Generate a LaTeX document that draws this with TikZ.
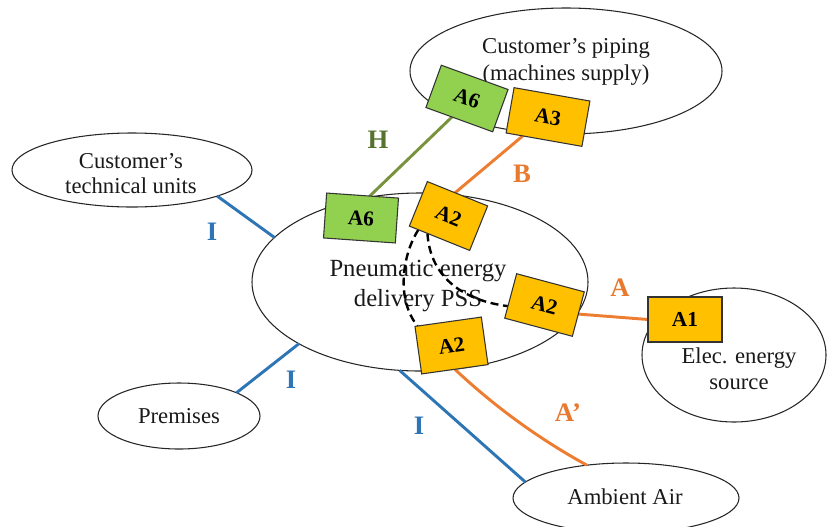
\documentclass[tikz,border=0pt]{standalone}
\usepackage{fontspec}
\setmainfont{Liberation Serif}
\usetikzlibrary{shapes.geometric,calc}
\pgfdeclarelayer{ell}
\pgfdeclarelayer{conn}
\pgfsetlayers{ell,conn,main}
\definecolor{boxyellow}{HTML}{FFC000}
\definecolor{boxgreen}{HTML}{92D050}
\definecolor{lineorange}{HTML}{ED7D31}
\definecolor{lineblue}{HTML}{2E75B6}
\definecolor{lineolive}{HTML}{77933C}
\definecolor{txtolive}{HTML}{56722F}
\definecolor{txtorange}{HTML}{E8792F}
\definecolor{txtblue}{HTML}{2E75B6}
\tikzset{
  region/.style={draw=black!85, line width=0.8pt, ellipse, inner sep=0pt, outer sep=0pt},
  regiontext/.style={align=center, inner sep=0pt, text=black!90},
  ybox/.style={draw=black!80, line width=0.8pt, fill=boxyellow, inner sep=0pt, outer sep=0pt,
    font=\fontsize{16}{18}\selectfont\bfseries},
  gbox/.style={ybox, fill=boxgreen},
  bline/.style={draw=lineblue, line width=2.2pt},
  oline/.style={draw=lineorange, line width=2.2pt},
  gline/.style={draw=lineolive, line width=2.2pt},
  lbl/.style={font=\fontsize{20}{22}\selectfont\bfseries, inner sep=0pt},
  dashline/.style={draw=black, line width=1.8pt, dash pattern=on 6pt off 3.5pt},
}
\begin{document}
\begin{tikzpicture}[x=0.75pt,y=-0.75pt]
\useasboundingbox (0,0) rectangle (828,526);

\begin{pgfonlayer}{ell}
\node[region, minimum width=234pt, minimum height=94.5pt] (pip) at (566,71) {};
\node[regiontext, font=\fontsize{17}{20}\selectfont] (piptxt) at (566,62) {Customer’s piping\\(machines supply)};
\node[region, minimum width=180pt, minimum height=55.5pt] (tech) at (132,170) {};
\node[regiontext, font=\fontsize{17}{18.75}\selectfont] (techtxt) at (131,174) {Customer’s\\technical units};
\node[region, minimum width=252pt, minimum height=133.5pt] (main) at (420,282) {};
\node[regiontext, font=\fontsize{18.5}{22.5}\selectfont] (maintxt) at (418,286) {Pneumatic energy\\delivery PSS};
\node[region, minimum width=138pt, minimum height=100.5pt] (elec) at (734,355) {};
\node[regiontext, font=\fontsize{17}{19.5}\selectfont] (electxt) at (739,369) {Elec. energy\\source};
\node[region, minimum width=121.5pt, minimum height=49.5pt] (prem) at (179,416) {};
\node[regiontext, font=\fontsize{17}{20}\selectfont] (premtxt) at (179,416) {Premises};
\node[region, minimum width=169.5pt, minimum height=52.5pt] (amb) at (626,498) {};
\node[regiontext, font=\fontsize{17}{20}\selectfont] (ambtxt) at (625,497) {Ambient Air};
\end{pgfonlayer}

% boxes
\node[gbox, minimum width=53.25pt, minimum height=33.75pt, rotate=-20] (A6t) at (467,98.5) {A6};
\node[ybox, minimum width=57.75pt, minimum height=34.5pt, rotate=-10] (A3) at (548,117) {A3};
\node[gbox, minimum width=54pt, minimum height=33.75pt, rotate=-4] (A6l) at (361,218) {A6};
\node[ybox, minimum width=48.75pt, minimum height=36pt, rotate=-22] (A2t) at (448.5,216) {A2};
\node[ybox, minimum width=52.5pt, minimum height=34.5pt, rotate=-15] (A2r) at (544.5,305) {A2};
\node[ybox, minimum width=50.25pt, minimum height=36pt, rotate=8] (A2b) at (451.5,345.5) {A2};
\node[ybox, minimum width=55.5pt, minimum height=33.75pt] (A1) at (685,319.5) {A1};

\begin{pgfonlayer}{conn}
\draw[gline] ($(A6l.north west)!0.6!(A6l.north east)$) -- ($(A6t.south west)!0.39!(A6t.south east)$);
\draw[oline] ($(A2t.north west)!0.46!(A2t.north east)$) -- ($(A3.south west)!0.22!(A3.south east)$);
\draw[oline] (A2r.east) -- (A1.west);
\draw[oline] (A2b.south) .. controls (495.6,407.4) and (539.2,439) .. (amb.140);
\draw[bline] (tech.-17) -- (main.163);
\draw[bline] (prem.22.5) -- (main.207.7);
\draw[bline] (main.257.2) -- (amb.171.3);
\draw[dashline] ($(A2t.south west)!0.15!(A2t.south east)$) .. controls (402,255) and (396,300) .. ($(A2b.north west)!0.04!(A2b.north east)$);
\draw[dashline] ($(A2t.south west)!0.3!(A2t.south east)$) .. controls (430,275) and (460,300) .. ($(A2r.north west)!0.73!(A2r.south west)$);
\end{pgfonlayer}

% labels
\node[lbl, text=txtolive] (lH) at (378,140) {H};
\node[lbl, text=txtorange] (lB) at (522,174) {B};
\node[lbl, text=txtorange] (lA) at (620,288) {A};
\node[lbl, text=txtorange] (lAp) at (568,413) {A’};
\node[lbl, text=txtblue] (lI1) at (212,232) {I};
\node[lbl, text=txtblue] (lI2) at (291,380) {I};
\node[lbl, text=txtblue] (lI3) at (419,426) {I};
\end{tikzpicture}
\end{document}
